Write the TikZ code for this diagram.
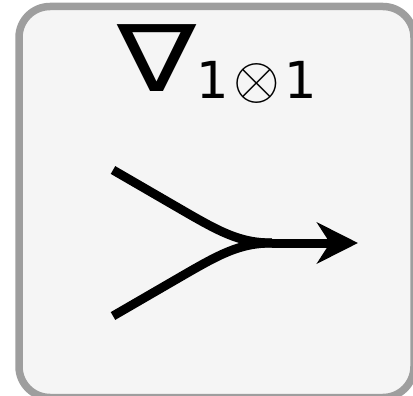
\documentclass[tikz,border=0pt]{standalone}
\usepackage{fontspec}
\setmainfont{DejaVu Sans}
\usetikzlibrary{arrows.meta}
\definecolor{boxfill}{HTML}{F5F5F5}
\definecolor{boxline}{HTML}{9E9E9E}
\tikzset{
  frame/.style={line width=7.5pt, draw=boxline, fill=boxfill, rounded corners=31pt},
  wire/.style={line width=9pt, draw=black},
  lbl/.style={inner sep=0pt, anchor=base west, text=black}
}
\begin{document}
\begin{tikzpicture}[x=1pt,y=-1pt]
\useasboundingbox (0,0) rectangle (413,396);
\clip (0,0) rectangle (413,396);
\draw[frame] (19,6.5) rectangle (414,397.5);
\node[inner sep=0pt, anchor=base] (nabla) at (157.5,92) {\scalebox{1.27}[1]{\fontsize{93}{93}\selectfont ∇}};
\node[lbl] (s1) at (196,99) {\fontsize{51}{51}\selectfont 1};
\node[inner sep=0pt] (ot) at (256.5,83.5) {\scalebox{6}{$\otimes$}};
\node[lbl] (s2) at (284,99) {\fontsize{51}{51}\selectfont 1};
\coordinate (a) at (113,170);
\coordinate (a1) at (182,210);
\coordinate (a2) at (220,232);
\coordinate (a3) at (240,243);
\coordinate (b) at (113,316);
\coordinate (b1) at (182,276);
\coordinate (b2) at (220,254);
\coordinate (b3) at (240,243);
\coordinate (m) at (272,243);
\coordinate (t) at (358,243);
\draw[wire] (a) -- (a1) .. controls (a2) and (a3) .. (m);
\draw[wire] (b) -- (b1) .. controls (b2) and (b3) .. (m);
\draw[wire, -{Stealth[length=41pt, width=41pt, inset=13pt]}] (m) -- (t);
\end{tikzpicture}
\end{document}
